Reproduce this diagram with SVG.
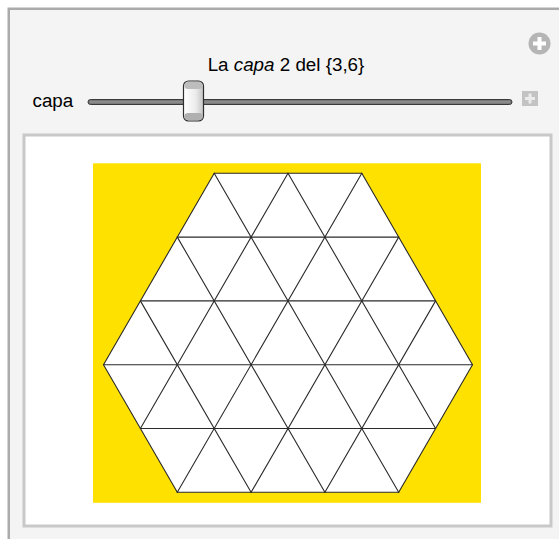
<svg xmlns="http://www.w3.org/2000/svg" width="559" height="539" viewBox="0 0 559 539">
<style>
.lbl{font-family:"Liberation Sans",Arial,sans-serif;font-size:18.8px;fill:#000}
.grid line{stroke:#2a2a2a;stroke-width:1.1;stroke-linecap:round}
</style>
<defs>
<linearGradient id="thumb" x1="0" y1="0" x2="1" y2="0">
<stop offset="0" stop-color="#ffffff"/>
<stop offset="0.6" stop-color="#ececec"/>
<stop offset="1" stop-color="#c4c4c4"/>
</linearGradient>
</defs>
<rect x="0" y="0" width="559" height="539" fill="#ffffff"/>
<g id="frame">
<rect x="8.75" y="8.75" width="560" height="540" fill="#f4f4f4" stroke="#ababab" stroke-width="2.5"/>
</g>
<g id="title">
<text class="lbl" x="286" y="71" text-anchor="middle">La <tspan font-style="italic">capa</tspan> 2 del {3,6}</text>
</g>
<g id="add-icon">
<circle cx="539.5" cy="43.5" r="11" fill="#b5b5b5"/>
<rect x="533" y="41.5" width="13" height="4" fill="#ffffff"/>
<rect x="537.5" y="37" width="4" height="13" fill="#ffffff"/>
</g>
<g id="slider">
<text class="lbl" x="32.5" y="106.5">capa</text>
<rect x="88" y="99.5" width="424" height="5" rx="2.5" fill="#7a7a7a" stroke="#3a3a3a" stroke-width="1"/>
<line x1="90" y1="102" x2="510" y2="102" stroke="#9a9a9a" stroke-width="1"/>
<rect x="183.5" y="81" width="20" height="40" rx="5" fill="url(#thumb)" stroke="#2e2e2e" stroke-width="1.2"/>
<rect x="184.2" y="82" width="18.6" height="7" rx="4" fill="#bdbdbd"/>
<rect x="184.2" y="113" width="18.6" height="7" rx="4" fill="#b0b0b0"/>
<rect x="522" y="91" width="16" height="15" fill="#c3c3c3"/>
<rect x="525" y="97" width="10" height="3" fill="#ececec"/>
<rect x="528.5" y="93.5" width="3" height="10" fill="#ececec"/>
</g>
<g id="panel">
<rect x="24" y="135" width="527" height="391" fill="#ffffff" stroke="#c8c8c8" stroke-width="3"/>
<rect x="93" y="163.3" width="388" height="339.5" fill="#ffe100"/>
</g>
<g id="hexagon">
<polygon points="214.2,173.3 361.8,173.3 472.5,364.7 398.7,492.3 177.3,492.3 103.5,364.7" fill="#ffffff"/>
</g>
<g id="connectors" class="grid">
<line x1="214.2" y1="173.3" x2="361.8" y2="173.3"/>
<line x1="177.3" y1="237.1" x2="398.7" y2="237.1"/>
<line x1="140.4" y1="300.9" x2="435.6" y2="300.9"/>
<line x1="103.5" y1="364.7" x2="472.5" y2="364.7"/>
<line x1="140.4" y1="428.5" x2="435.6" y2="428.5"/>
<line x1="177.3" y1="492.3" x2="398.7" y2="492.3"/>
<line x1="361.8" y1="173.3" x2="472.5" y2="364.7"/>
<line x1="288" y1="173.3" x2="435.6" y2="428.5"/>
<line x1="214.2" y1="173.3" x2="398.7" y2="492.3"/>
<line x1="177.3" y1="237.1" x2="324.9" y2="492.3"/>
<line x1="140.4" y1="300.9" x2="251.1" y2="492.3"/>
<line x1="103.5" y1="364.7" x2="177.3" y2="492.3"/>
<line x1="214.2" y1="173.3" x2="103.5" y2="364.7"/>
<line x1="288" y1="173.3" x2="140.4" y2="428.5"/>
<line x1="361.8" y1="173.3" x2="177.3" y2="492.3"/>
<line x1="398.7" y1="237.1" x2="251.1" y2="492.3"/>
<line x1="435.6" y1="300.9" x2="324.9" y2="492.3"/>
<line x1="472.5" y1="364.7" x2="398.7" y2="492.3"/>
</g>
</svg>
